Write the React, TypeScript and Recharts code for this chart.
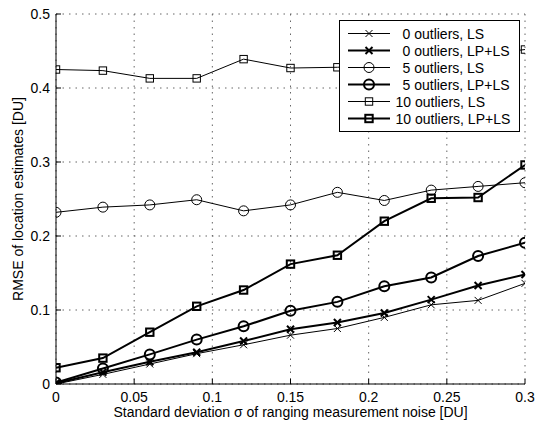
import React from 'react';
import { LineChart, Line, XAxis, YAxis, CartesianGrid, Legend } from 'recharts';

const xValues = [0, 0.03, 0.06, 0.09, 0.12, 0.15, 0.18, 0.21, 0.24, 0.27, 0.3];
const ls0 = [0, 0.013, 0.027, 0.041, 0.053, 0.066, 0.075, 0.09, 0.107, 0.113, 0.136];
const lp0 = [0.001, 0.016, 0.03, 0.043, 0.058, 0.074, 0.083, 0.096, 0.114, 0.133, 0.148];
const ls5 = [0.232, 0.239, 0.242, 0.249, 0.234, 0.242, 0.259, 0.248, 0.262, 0.267, 0.272];
const lp5 = [0.002, 0.021, 0.04, 0.06, 0.078, 0.099, 0.111, 0.132, 0.144, 0.173, 0.191];
const ls10 = [0.425, 0.4235, 0.413, 0.413, 0.439, 0.427, 0.428, 0.432, 0.437, 0.444, 0.452];
const lp10 = [0.022, 0.035, 0.07, 0.105, 0.127, 0.162, 0.174, 0.22, 0.251, 0.252, 0.296];

const xTicks = [0, 0.05, 0.1, 0.15, 0.2, 0.25, 0.3];
const yTicks = [0, 0.1, 0.2, 0.3, 0.4, 0.5];

const seriesNames = [
  '0 outliers, LS',
  '0 outliers, LP+LS',
  '5 outliers, LS',
  '5 outliers, LP+LS',
  '10 outliers, LS',
  '10 outliers, LP+LS',
];
const seriesValues = [ls0, lp0, ls5, lp5, ls10, lp10];
const seriesKeys = ['ls0', 'lp0', 'ls5', 'lp5', 'ls10', 'lp10'];
const seriesMarkers = ['x', 'x', 'o', 'o', 's', 's'];
const seriesThick = [false, true, false, true, false, true];

const data = xValues.map((x, i) => {
  const row: Record<string, number> = { x };
  seriesKeys.forEach((k, j) => {
    row[k] = seriesValues[j][i];
  });
  return row;
});

const FONT = '"Liberation Sans", Arial, Helvetica, sans-serif';
const FS = 14;

function Marker({ cx, cy, type, thick }: { cx: number; cy: number; type: string; thick: boolean }) {
  const sw = thick ? 2 : 1;
  if (type === 'x') {
    const h = 3.5;
    return (
      <g stroke="#000" strokeWidth={sw} fill="none">
        <line x1={cx - h} y1={cy - h} x2={cx + h} y2={cy + h} />
        <line x1={cx - h} y1={cy + h} x2={cx + h} y2={cy - h} />
      </g>
    );
  }
  if (type === 'o') {
    return <circle cx={cx} cy={cy} r={5} stroke="#000" strokeWidth={sw} fill="none" />;
  }
  const h = 3.7;
  return <rect x={cx - h} y={cy - h} width={2 * h} height={2 * h} stroke="#000" strokeWidth={sw} fill="none" />;
}

function LegendBox() {
  return (
    <svg width={181} height={112} style={{ display: 'block' }}>
      <rect x={0.5} y={0.5} width={180} height={111} fill="#fff" stroke="#000" strokeWidth={1} />
      {seriesNames.map((name, i) => {
        const y = 13.5 + i * 17;
        const thick = seriesThick[i];
        const tx = name.startsWith('10') ? 56.5 : 63.5;
        return (
          <g key={name}>
            <line x1={9} y1={y} x2={51} y2={y} stroke="#000" strokeWidth={thick ? 2 : 1} />
            <Marker cx={30} cy={y} type={seriesMarkers[i]} thick={thick} />
            <text x={tx} y={y + 5} fontSize={FS} fontFamily={FONT} fill="#000">
              {name}
            </text>
          </g>
        );
      })}
    </svg>
  );
}

export default function App() {
  return (
    <div style={{ position: 'absolute', left: 0, top: 0, width: 535, height: 425, background: '#fff' }}>
      <LineChart
        width={535}
        height={425}
        data={data}
        margin={{ top: 14, right: 10, bottom: 0, left: 0 }}
        style={{ fontFamily: FONT }}
      >
        <CartesianGrid stroke="#666" strokeDasharray="1.5 5" />
        <XAxis
          dataKey="x"
          type="number"
          domain={[0, 0.3]}
          ticks={xTicks}
          allowDataOverflow
          height={41}
          tickSize={-5}
          tickMargin={13}
          axisLine={{ stroke: '#000' }}
          tickLine={{ stroke: '#000' }}
          tick={{ fill: '#000', fontSize: FS, fontFamily: FONT }}
          label={{
            value: 'Standard deviation σ of ranging measurement noise [DU]',
            position: 'insideBottom',
            offset: 8,
            fill: '#000',
            fontSize: FS,
            fontFamily: FONT,
          }}
        />
        <XAxis
          xAxisId="top"
          orientation="top"
          type="number"
          domain={[0, 0.3]}
          ticks={xTicks}
          allowDataOverflow
          height={0}
          tickSize={-5}
          tick={false}
          axisLine={{ stroke: '#000' }}
          tickLine={{ stroke: '#000' }}
        />
        <YAxis
          type="number"
          domain={[0, 0.5]}
          ticks={yTicks}
          allowDataOverflow
          width={56}
          tickSize={-5}
          tickMargin={11}
          axisLine={{ stroke: '#000' }}
          tickLine={{ stroke: '#000' }}
          tick={{ fill: '#000', fontSize: FS, fontFamily: FONT }}
          label={{
            value: 'RMSE of location estimates [DU]',
            angle: -90,
            position: 'insideLeft',
            offset: 18,
            fill: '#000',
            fontSize: FS,
            fontFamily: FONT,
            style: { textAnchor: 'middle' },
          }}
        />
        <YAxis
          yAxisId="right"
          orientation="right"
          type="number"
          domain={[0, 0.5]}
          ticks={yTicks}
          allowDataOverflow
          width={0}
          tickSize={-5}
          tick={false}
          axisLine={{ stroke: '#000' }}
          tickLine={{ stroke: '#000' }}
        />
        <Legend
          layout="vertical"
          align="center"
          verticalAlign="middle"
          wrapperStyle={{ position: 'absolute', left: 339, top: 20, width: 181, height: 112 }}
          content={() => <LegendBox />}
        />
        {seriesKeys.map((k, i) => (
          <Line
            key={k}
            dataKey={k}
            name={seriesNames[i]}
            stroke="#000"
            strokeWidth={seriesThick[i] ? 2 : 1}
            isAnimationActive={false}
            dot={(p: any) => (
              <Marker key={`${k}-${p.index}`} cx={p.cx} cy={p.cy} type={seriesMarkers[i]} thick={seriesThick[i]} />
            )}
            activeDot={false}
          />
        ))}
      </LineChart>
    </div>
  );
}
